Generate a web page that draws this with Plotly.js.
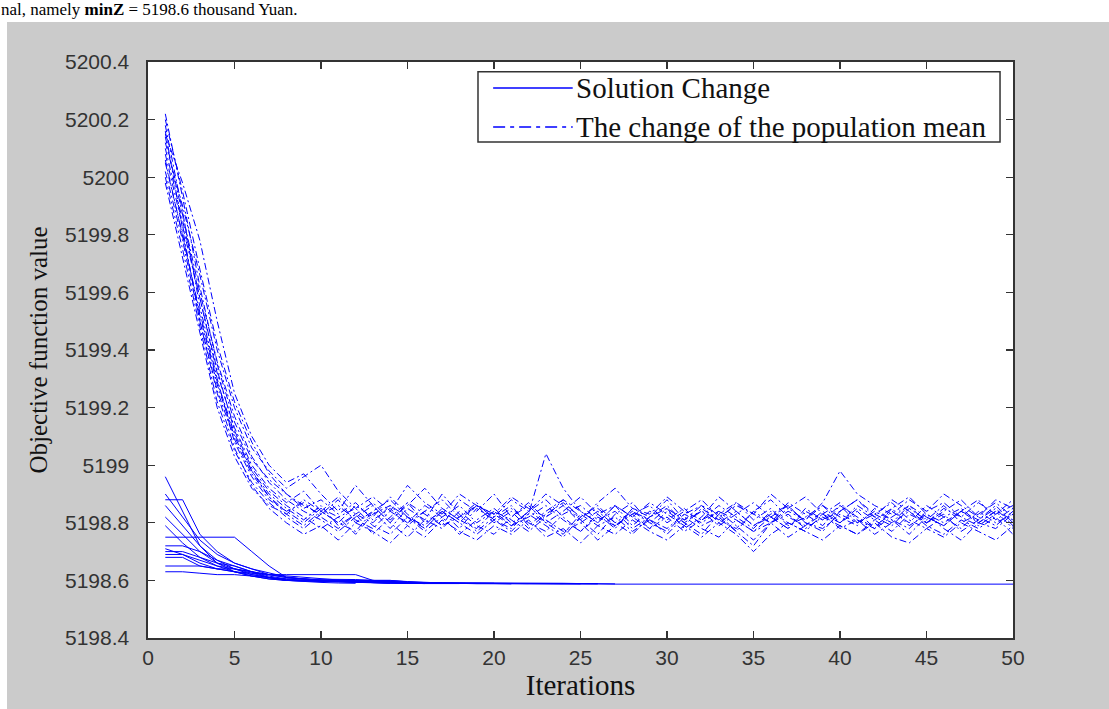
<!DOCTYPE html>
<html>
<head>
<meta charset="utf-8">
<script src="https://cdn.plot.ly/plotly-3.0.1.min.js"></script>
<style>
  html, body { margin: 0; padding: 0; background: #ffffff; width: 1109px; height: 709px; overflow: hidden; position: relative; }
  #topline { position: absolute; left: 1px; top: 0px; font-family: "Liberation Serif", "Times New Roman", serif; font-size: 17px; line-height: 20px; color: #000; white-space: nowrap; }
  #panel { position: absolute; left: 7px; top: 22px; width: 1102px; height: 687px; background: #cbcbcb; }
  #chart { position: absolute; left: 7px; top: 22px; width: 1102px; height: 687px; }
</style>
</head>
<body>
<div id="topline">nal, namely <b>minZ</b> = 5198.6 thousand Yuan.</div>
<div id="panel"></div>
<div id="chart"></div>
<script>
// Iteration numbers
const ITER = [1,2,3,4,5,6,7,8,9,10,11,12,13,14,15,16,17,18,19,20,21,22,23,24,25,26,27,28,29,30,31,32,33,34,35,36,37,38,39,40,41,42,43,44,45,46,47,48,49,50];

// Axis tick labels
const X_TICKS = [0,5,10,15,20,25,30,35,40,45,50];
const Y_TICKS = [5198.4,5198.6,5198.8,5199,5199.2,5199.4,5199.6,5199.8,5200,5200.2,5200.4];
const Y_TICK_TEXT = ["5198.4","5198.6","5198.8","5199","5199.2","5199.4","5199.6","5199.8","5200","5200.2","5200.4"];

// Series names
const NAME_SOLUTION = "Solution Change";
const NAME_MEAN = "The change of the population mean";

// Population-mean runs (dash-dot)
const mean1 = [5200.22,5199.93,5199.62,5199.35,5199.15,5199.02,5198.95,5198.90,5198.86,5198.83,
  5198.88,5198.80,5198.84,5198.78,5198.85,5198.81,5198.90,5198.83,5198.77,5198.82,
  5198.86,5198.79,5198.84,5198.88,5198.81,5198.76,5198.83,5198.87,5198.80,5198.85,
  5198.78,5198.82,5198.89,5198.84,5198.79,5198.83,5198.86,5198.80,5198.77,5198.84,
  5198.88,5198.82,5198.79,5198.85,5198.81,5198.86,5198.80,5198.83,5198.87,5198.82];
const mean2 = [5200.15,5199.98,5199.78,5199.50,5199.25,5199.10,5199.00,5198.94,5198.97,5198.90,
  5198.84,5198.93,5198.86,5198.80,5198.87,5198.83,5198.79,5198.88,5198.84,5198.90,
  5198.82,5198.86,5198.80,5198.84,5198.89,5198.83,5198.78,5198.85,5198.82,5198.88,
  5198.81,5198.86,5198.83,5198.77,5198.84,5198.80,5198.87,5198.83,5198.79,5198.86,
  5198.82,5198.78,5198.85,5198.89,5198.83,5198.80,5198.84,5198.88,5198.81,5198.85];
const mean3 = [5200.05,5199.80,5199.52,5199.28,5199.10,5198.98,5198.90,5198.85,5198.81,5198.86,
  5198.79,5198.83,5198.76,5198.82,5198.87,5198.80,5198.84,5198.78,5198.85,5198.81,
  5198.77,5198.83,5199.04,5198.92,5198.84,5198.80,5198.86,5198.82,5198.78,5198.84,
  5198.80,5198.76,5198.83,5198.87,5198.81,5198.85,5198.79,5198.82,5198.86,5198.80,
  5198.84,5198.78,5198.82,5198.86,5198.80,5198.83,5198.77,5198.81,5198.85,5198.79];
const mean4 = [5200.10,5199.85,5199.58,5199.32,5199.13,5199.00,5198.92,5198.87,5198.91,5198.84,
  5198.80,5198.86,5198.82,5198.89,5198.83,5198.78,5198.84,5198.80,5198.86,5198.83,
  5198.79,5198.84,5198.88,5198.82,5198.77,5198.83,5198.86,5198.79,5198.84,5198.81,
  5198.85,5198.79,5198.82,5198.77,5198.72,5198.80,5198.84,5198.81,5198.86,5198.82,
  5198.79,5198.85,5198.81,5198.78,5198.84,5198.87,5198.82,5198.79,5198.83,5198.86];
const mean5 = [5200.18,5199.88,5199.55,5199.30,5199.08,5198.96,5198.88,5198.84,5198.80,5198.85,
  5198.82,5198.76,5198.83,5198.86,5198.80,5198.84,5198.79,5198.82,5198.87,5198.81,
  5198.85,5198.80,5198.77,5198.83,5198.86,5198.81,5198.84,5198.78,5198.82,5198.86,
  5198.80,5198.84,5198.81,5198.78,5198.84,5198.88,5198.82,5198.79,5198.84,5198.80,
  5198.85,5198.81,5198.77,5198.83,5198.80,5198.84,5198.88,5198.82,5198.79,5198.84];
const mean6 = [5200.00,5199.75,5199.48,5199.22,5199.05,5198.94,5198.87,5198.82,5198.78,5198.83,
  5198.86,5198.81,5198.78,5198.84,5198.80,5198.86,5198.82,5198.76,5198.81,5198.85,
  5198.80,5198.83,5198.79,5198.75,5198.82,5198.86,5198.80,5198.84,5198.81,5198.78,
  5198.83,5198.86,5198.80,5198.84,5198.79,5198.82,5198.78,5198.84,5198.81,5198.86,
  5198.80,5198.83,5198.87,5198.81,5198.78,5198.82,5198.85,5198.80,5198.84,5198.81];
const mean7 = [5200.12,5199.90,5199.66,5199.40,5199.20,5199.06,5198.98,5198.92,5198.96,5199.00,
  5198.91,5198.85,5198.89,5198.84,5198.93,5198.87,5198.83,5198.90,5198.86,5198.82,
  5198.88,5198.84,5198.90,5198.86,5198.81,5198.87,5198.92,5198.85,5198.83,5198.89,
  5198.84,5198.88,5198.82,5198.86,5198.83,5198.90,5198.85,5198.81,5198.87,5198.98,
  5198.90,5198.86,5198.83,5198.88,5198.84,5198.90,5198.86,5198.82,5198.88,5198.85];
const mean8 = [5200.02,5199.78,5199.50,5199.25,5199.06,5198.93,5198.85,5198.80,5198.76,5198.79,
  5198.74,5198.80,5198.77,5198.73,5198.79,5198.75,5198.81,5198.77,5198.74,5198.79,
  5198.76,5198.81,5198.75,5198.78,5198.73,5198.79,5198.76,5198.81,5198.77,5198.74,
  5198.79,5198.75,5198.80,5198.76,5198.70,5198.76,5198.80,5198.77,5198.74,5198.79,
  5198.76,5198.80,5198.75,5198.73,5198.78,5198.75,5198.80,5198.77,5198.74,5198.79];
const mean9 = [5200.20,5199.95,5199.68,5199.42,5199.22,5199.08,5198.97,5198.90,5198.85,5198.88,
  5198.83,5198.87,5198.81,5198.85,5198.79,5198.84,5198.88,5198.82,5198.86,5198.80,
  5198.84,5198.78,5198.83,5198.87,5198.82,5198.85,5198.80,5198.76,5198.82,5198.85,
  5198.81,5198.84,5198.79,5198.83,5198.87,5198.82,5198.78,5198.85,5198.81,5198.84,
  5198.88,5198.83,5198.80,5198.86,5198.82,5198.79,5198.84,5198.81,5198.86,5198.80];
const mean10 = [5200.08,5199.83,5199.57,5199.33,5199.12,5198.99,5198.91,5198.86,5198.82,5198.78,
  5198.82,5198.85,5198.79,5198.76,5198.82,5198.78,5198.84,5198.80,5198.76,5198.81,
  5198.78,5198.84,5198.80,5198.76,5198.83,5198.79,5198.82,5198.77,5198.81,5198.76,
  5198.82,5198.78,5198.75,5198.81,5198.77,5198.80,5198.75,5198.79,5198.83,5198.78,
  5198.81,5198.76,5198.80,5198.84,5198.79,5198.76,5198.81,5198.78,5198.82,5198.76];
const mean11 = [5199.98,5199.72,5199.45,5199.20,5199.03,5198.92,5198.86,5198.83,5198.88,5198.84,
  5198.89,5198.83,5198.87,5198.81,5198.86,5198.92,5198.85,5198.81,5198.86,5198.83,
  5198.89,5198.85,5198.82,5198.88,5198.84,5198.80,5198.86,5198.82,5198.87,5198.83,
  5198.79,5198.85,5198.81,5198.87,5198.83,5198.80,5198.85,5198.89,5198.83,5198.80,
  5198.86,5198.82,5198.88,5198.84,5198.80,5198.85,5198.82,5198.87,5198.83,5198.88];
const mean12 = [5200.14,5199.87,5199.60,5199.36,5199.17,5199.03,5198.94,5198.88,5198.84,5198.81,
  5198.77,5198.82,5198.86,5198.80,5198.75,5198.81,5198.78,5198.84,5198.79,5198.76,
  5198.82,5198.87,5198.81,5198.77,5198.80,5198.74,5198.79,5198.83,5198.78,5198.82,
  5198.77,5198.81,5198.84,5198.79,5198.74,5198.80,5198.83,5198.78,5198.82,5198.79,
  5198.76,5198.81,5198.85,5198.79,5198.83,5198.78,5198.74,5198.80,5198.84,5198.78];
const mean13 = [5200.16,5199.82,5199.50,5199.26,5199.09,5198.97,5198.89,5198.83,5198.79,5198.84,
  5198.80,5198.77,5198.84,5198.88,5198.82,5198.79,5198.85,5198.81,5198.78,5198.84,
  5198.81,5198.77,5198.82,5198.86,5198.80,5198.84,5198.79,5198.83,5198.86,5198.80,
  5198.84,5198.81,5198.86,5198.82,5198.78,5198.84,5198.80,5198.77,5198.83,5198.87,
  5198.81,5198.78,5198.84,5198.80,5198.86,5198.82,5198.78,5198.84,5198.80,5198.83];
const mean14 = [5200.06,5199.79,5199.53,5199.29,5199.11,5198.98,5198.89,5198.84,5198.87,5198.82,
  5198.78,5198.83,5198.80,5198.86,5198.82,5198.77,5198.82,5198.86,5198.80,5198.84,
  5198.79,5198.82,5198.86,5198.81,5198.77,5198.82,5198.79,5198.84,5198.80,5198.77,
  5198.83,5198.80,5198.84,5198.81,5198.77,5198.82,5198.86,5198.80,5198.78,5198.83,
  5198.80,5198.84,5198.81,5198.76,5198.82,5198.79,5198.84,5198.80,5198.78,5198.83];

// Best-solution runs (solid); each run listed for as many iterations as it is visible apart
const sol1 = [5198.960,5198.840,5198.720,5198.660,5198.630,5198.615,5198.605,5198.600,5198.598,5198.596,5198.595,5198.594,5198.593,5198.592,5198.591,5198.591,5198.590,5198.590,5198.590,5198.589,5198.589,5198.589,5198.589,5198.589,5198.589,5198.589,5198.588];
const sol2 = [5198.750,5198.750,5198.750,5198.750,5198.750,5198.700,5198.650,5198.610,5198.605,5198.600,5198.600,5198.598,5198.596,5198.594,5198.594,5198.592,5198.592,5198.592,5198.591,5198.591,5198.590,5198.590,5198.590,5198.590,5198.589,5198.589];
const sol3 = [5198.880,5198.880,5198.760,5198.700,5198.660,5198.640,5198.620,5198.610,5198.605,5198.600,5198.600,5198.600,5198.600,5198.600,5198.595,5198.592,5198.590,5198.590,5198.590,5198.590,5198.590,5198.590,5198.589,5198.589,5198.589,5198.588];
const sol4 = [5198.860,5198.790,5198.720,5198.670,5198.640,5198.620,5198.610,5198.600,5198.598,5198.596,
  5198.596,5198.596,5198.596,5198.596,5198.590,5198.590,5198.589,5198.589,5198.589,5198.589,
  5198.589,5198.589,5198.588,5198.588,5198.588,5198.588,5198.587,5198.587,5198.587,5198.587,
  5198.587,5198.587,5198.587,5198.587,5198.587,5198.587,5198.587,5198.587,5198.587,5198.587,
  5198.587,5198.587,5198.587,5198.587,5198.587,5198.587,5198.587,5198.587,5198.587,5198.587];
const sol5 = [5198.820,5198.760,5198.700,5198.660,5198.640,5198.630,5198.620,5198.620,5198.620,5198.620,5198.620,5198.620,5198.600,5198.595,5198.592,5198.590,5198.589,5198.589,5198.589,5198.589,5198.588];
const sol6 = [5198.790,5198.730,5198.680,5198.650,5198.630,5198.615,5198.605,5198.600,5198.600,5198.600,5198.600,5198.600,5198.600,5198.600,5198.596,5198.593,5198.591,5198.590,5198.590,5198.590];
const sol7 = [5198.700,5198.700,5198.680,5198.660,5198.650,5198.630,5198.610,5198.600,5198.598,5198.596,5198.594,5198.592,5198.591,5198.590,5198.590,5198.589];
const sol8 = [5198.690,5198.690,5198.670,5198.650,5198.640,5198.625,5198.610,5198.603,5198.600,5198.598,5198.596,5198.594,5198.593,5198.592,5198.591,5198.590,5198.590,5198.589,5198.589,5198.589,5198.589,5198.589,5198.588,5198.588,5198.588];
const sol9 = [5198.710,5198.690,5198.660,5198.640,5198.630,5198.620,5198.610,5198.605,5198.605,5198.605,5198.605,5198.603,5198.600,5198.596,5198.593,5198.591];
const sol10 = [5198.680,5198.680,5198.650,5198.640,5198.630,5198.625,5198.620,5198.615,5198.610,5198.605,5198.600,5198.596,5198.592,5198.590];
const sol11 = [5198.650,5198.650,5198.650,5198.640,5198.640,5198.630,5198.620,5198.610,5198.605,5198.600,5198.597,5198.594,5198.592,5198.590,5198.590,5198.589,5198.589,5198.589];
const sol12 = [5198.630,5198.630,5198.625,5198.620,5198.620,5198.615,5198.610,5198.600,5198.596,5198.593,5198.591,5198.590];
const sol13 = [5198.900,5198.820,5198.740,5198.690,5198.660,5198.640,5198.625,5198.612,5198.605,5198.600,5198.597,5198.594,5198.592,5198.591,5198.590,5198.590,5198.589,5198.589,5198.589,5198.589,5198.589,5198.589,5198.589,5198.589];
const sol14 = [5198.720,5198.720,5198.700,5198.670,5198.650,5198.630,5198.615,5198.605,5198.600,5198.598,5198.596,5198.594,5198.592,5198.591,5198.590,5198.590,5198.589,5198.589,5198.589,5198.589,5198.589,5198.589];

const MEAN_RUNS = [mean1,mean2,mean3,mean4,mean5,mean6,mean7,mean8,mean9,mean10,mean11,mean12,mean13,mean14];
const SOL_RUNS = [sol1,sol2,sol3,sol4,sol5,sol6,sol7,sol8,sol9,sol10,sol11,sol12,sol13,sol14];

const BLUE = "#0000ff";
const MEAN_DASH = "7px,3px,2px,3px";
const traces = [];
SOL_RUNS.forEach((ys) => {
  traces.push({
    x: ITER.slice(0, ys.length), y: ys, type: "scatter", mode: "lines",
    name: NAME_SOLUTION, showlegend: false,
    line: { color: BLUE, width: 1 }
  });
});
MEAN_RUNS.forEach((ys) => {
  traces.push({
    x: ITER.slice(0, ys.length), y: ys, type: "scatter", mode: "lines",
    name: NAME_MEAN, showlegend: false,
    line: { color: BLUE, width: 1, dash: MEAN_DASH }
  });
});

// Legend box drawn in paper coordinates (MATLAB-style long line samples)
const SERIF = "Liberation Serif, Times New Roman, serif";
const legendShapes = [
  { type: "rect", xref: "paper", yref: "paper", x0: 0.3815, x1: 0.985, y0: 0.861, y1: 0.983,
    fillcolor: "#ffffff", line: { color: "#333333", width: 1.5 }, layer: "above" },
  { type: "line", xref: "paper", yref: "paper", x0: 0.399, x1: 0.491, y0: 0.9549, y1: 0.9549,
    line: { color: BLUE, width: 1.5 }, layer: "above" },
  { type: "line", xref: "paper", yref: "paper", x0: 0.399, x1: 0.491, y0: 0.8872, y1: 0.8872,
    line: { color: BLUE, width: 1.5, dash: "12px,5px,4px,5px" }, layer: "above" }
];
const legendTexts = [
  { xref: "paper", yref: "paper", x: 0.4925, y: 0.9549, xanchor: "left", yanchor: "middle", showarrow: false,
    text: NAME_SOLUTION, font: { family: SERIF, size: 29, color: "#111111" } },
  { xref: "paper", yref: "paper", x: 0.4925, y: 0.8872, xanchor: "left", yanchor: "middle", showarrow: false,
    text: NAME_MEAN, font: { family: SERIF, size: 29, color: "#111111" } }
];

const axisCommon = {
  showgrid: false, zeroline: false, showline: true, mirror: "ticks",
  linecolor: "#333333", linewidth: 1.6, ticks: "inside", ticklen: 7, tickwidth: 1.3, tickcolor: "#333333"
};

const layout = {
  width: 1102, height: 687,
  margin: { l: 141, r: 96, t: 40, b: 71 },
  paper_bgcolor: "#cbcbcb", plot_bgcolor: "#ffffff",
  showlegend: false,
  shapes: legendShapes,
  annotations: legendTexts,
  xaxis: Object.assign({}, axisCommon, {
    range: [0, 50], tickvals: X_TICKS, ticktext: X_TICKS.map(String),
    tickfont: { family: "Liberation Sans, Arial, sans-serif", size: 21, color: "#333333" },
    ticklabelstandoff: 0,
    title: { text: "Iterations", font: { family: SERIF, size: 29, color: "#111111" }, standoff: 5 }
  }),
  yaxis: Object.assign({}, axisCommon, {
    range: [5198.4, 5200.4], tickvals: Y_TICKS, ticktext: Y_TICK_TEXT,
    tickfont: { family: "Liberation Sans, Arial, sans-serif", size: 21, color: "#333333" },
    ticklabelstandoff: 13,
    title: { text: "Objective function value", font: { family: SERIF, size: 25, color: "#111111" }, standoff: 10 }
  })
};

Plotly.newPlot("chart", traces, layout, { displayModeBar: false, staticPlot: true });
</script>
</body>
</html>
